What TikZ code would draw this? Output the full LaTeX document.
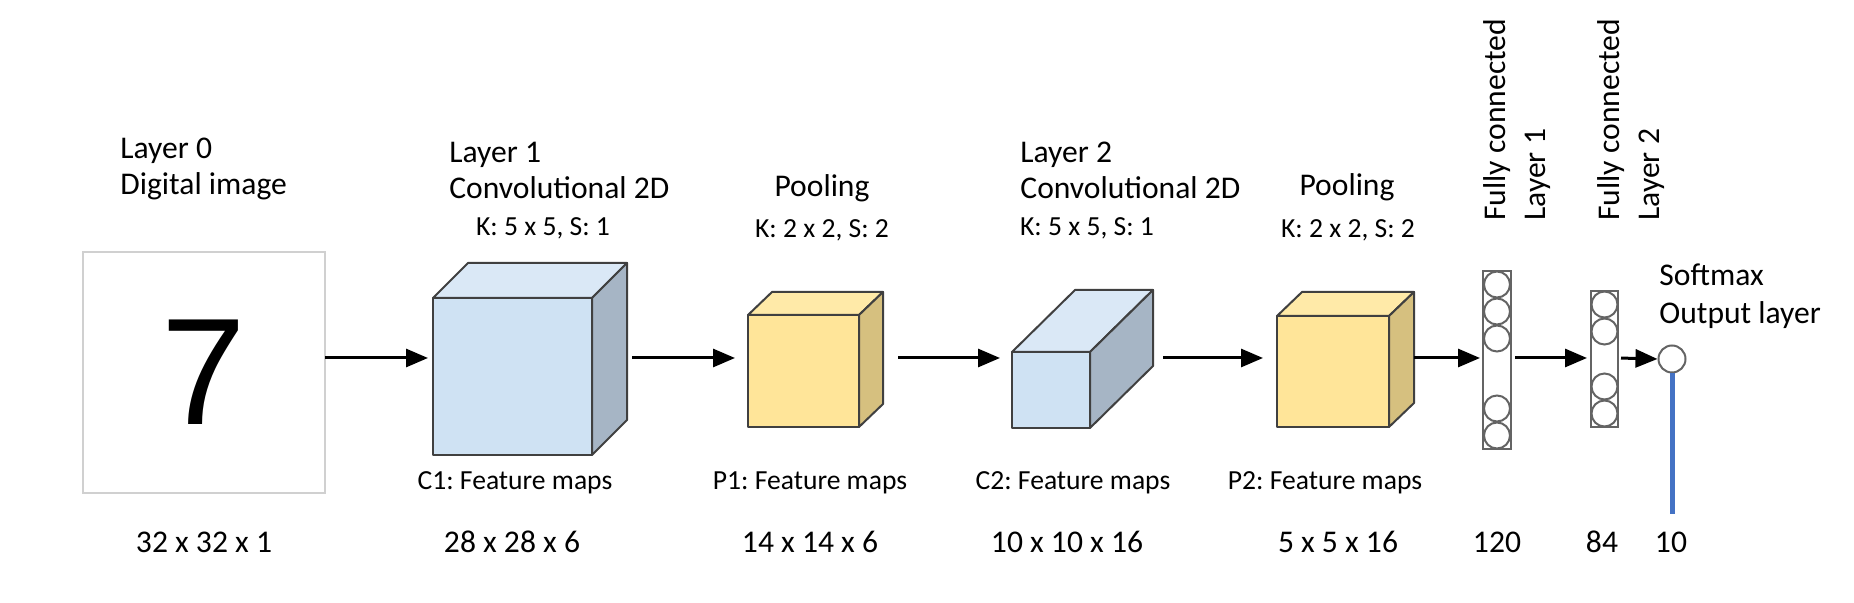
\documentclass[tikz,border=0pt]{standalone}
\usepackage{fontspec}
\setmainfont{Carlito}
\newfontfamily\digitfont{Liberation Sans}
\usetikzlibrary{arrows.meta,calc}
\frenchspacing

\definecolor{bluefront}{RGB}{207,226,243}
\definecolor{bluetop}{RGB}{218,232,246}
\definecolor{blueside}{RGB}{166,181,197}
\definecolor{yellowfront}{RGB}{255,229,153}
\definecolor{yellowtop}{RGB}{255,234,168}
\definecolor{yellowside}{RGB}{214,192,127}
\definecolor{edgegray}{RGB}{64,64,64}
\definecolor{boxgray}{RGB}{208,208,208}
\definecolor{nngray}{RGB}{100,100,100}
\definecolor{outblue}{RGB}{68,114,196}

\tikzset{
  face/.style={draw=edgegray, line width=1pt, line join=round, inner sep=0pt, outer sep=0pt},
  bigtxt/.style={font=\fontsize{15.8pt}{18pt}\selectfont, inner sep=0pt},
  smalltxt/.style={font=\fontsize{13.8pt}{16pt}\selectfont, inner sep=0pt},
  arr/.style={line width=1.5pt, -{Triangle[length=11pt,width=9pt]}},
  neuron/.style={circle, draw=nngray, line width=1pt, minimum size=13pt, inner sep=0pt},
  column/.style={draw=nngray, line width=1.2pt, inner sep=0pt, outer sep=0pt},
}

\begin{document}
\begin{tikzpicture}[x=0.5pt, y=-0.5pt]
\useasboundingbox (0,0) rectangle (1854,603);
\coordinate (mid) at (0,358);

% input image
\node[draw=boxgray, line width=1.2pt, minimum width=121pt, minimum height=120.5pt, inner sep=0pt, outer sep=0pt] (img) at (204,372.5) {};
\node[font=\digitfont\fontsize{76pt}{76pt}\selectfont, inner sep=0pt] (seven) at (img.center) {7};

% C1
\node[face, fill=bluefront, minimum width=79.5pt, minimum height=78.5pt] (c1) at (512.5,376.5) {};
\draw[face, fill=bluetop] (c1.north west) -- ++(35,-35) -- ++(159,0) -- (c1.north east) -- cycle;
\draw[face, fill=blueside] (c1.north east) -- ++(35,-35) -- ++(0,157) -- (c1.south east) -- cycle;
\coordinate (c1back) at ($(c1.east)+(35,0)$);

% P1
\node[face, fill=yellowfront, minimum width=55.5pt, minimum height=56pt] (p1) at (803.5,371) {};
\draw[face, fill=yellowtop] (p1.north west) -- ++(24,-23) -- ++(111,0) -- (p1.north east) -- cycle;
\draw[face, fill=yellowside] (p1.north east) -- ++(24,-23) -- ++(0,112) -- (p1.south east) -- cycle;
\coordinate (p1back) at ($(p1.east)+(24,0)$);

% C2
\node[face, fill=bluefront, minimum width=39pt, minimum height=38pt] (c2) at (1051,390) {};
\draw[face, fill=bluetop] (c2.north west) -- ++(63,-62) -- ++(78,0) -- (c2.north east) -- cycle;
\draw[face, fill=blueside] (c2.north east) -- ++(63,-62) -- ++(0,76) -- (c2.south east) -- cycle;
\coordinate (c2back) at ($(c2.east)+(63,0)$);

% P2
\node[face, fill=yellowfront, minimum width=56pt, minimum height=55.5pt] (p2) at (1333,371.5) {};
\draw[face, fill=yellowtop] (p2.north west) -- ++(25,-24) -- ++(112,0) -- (p2.north east) -- cycle;
\draw[face, fill=yellowside] (p2.north east) -- ++(25,-24) -- ++(0,111) -- (p2.south east) -- cycle;
\coordinate (p2back) at ($(p2.east)+(25,0)$);

% fully connected layers
\node[column, minimum width=14pt, minimum height=89pt] (fc1) at (1497,360) {};
\foreach \y [count=\i] in {284.5,311.5,338.5,408.5,435.5}
  \node[neuron] (fc1n\i) at (1497,\y) {};
\node[column, minimum width=13.5pt, minimum height=68pt] (fc2) at (1604.5,359) {};
\foreach \y [count=\i] in {304.5,331.5,386.5,413.5}
  \node[neuron] (fc2n\i) at (1604.5,\y) {};
\node[neuron, minimum size=13.5pt] (out) at (1672,359) {};
\coordinate (outend) at (1672,514);
\draw[outblue, line width=2.5pt] (out.south) -- (outend);

% arrows
\draw[arr, shorten >=2.5pt] (img.east |- mid) -- (c1.west |- mid);
\draw[arr, shorten <=2.5pt, shorten >=6.5pt] (c1back |- mid) -- (p1.west |- mid);
\draw[arr, shorten <=7.5pt, shorten >=6pt] (p1back |- mid) -- (c2.west |- mid);
\draw[arr, shorten <=5pt, shorten >=7pt] (c2back |- mid) -- (p2.west |- mid);
\draw[arr, shorten >=1.5pt] (p2back |- mid) -- (fc1.west |- mid);
\draw[arr, shorten <=2pt, shorten >=2pt] (fc1.east |- mid) -- (fc2.west |- mid);
\draw[arr, shorten <=1.5pt] (fc2.east |- mid) -- (out.west);

% titles
\node[bigtxt, align=left, anchor=west] (l0) at (120,168.5) {Layer 0\\Digital image};
\node[bigtxt, align=left, anchor=west] (l1) at (449,170.5) {Layer 1\\Convolutional 2D};
\node[bigtxt] (pool1) at (822,188) {Pooling};
\node[bigtxt, align=left, anchor=west] (l2) at (1020,170.5) {Layer 2\\Convolutional 2D};
\node[bigtxt] (pool2) at (1347,187) {Pooling};
\node[bigtxt, font=\fontsize{15.8pt}{20pt}\selectfont, rotate=90, anchor=west, align=left] (fc1lbl) at (1517,221) {Fully connected\\Layer 1};
\node[bigtxt, font=\fontsize{15.8pt}{20pt}\selectfont, rotate=90, anchor=west, align=left] (fc2lbl) at (1631.5,221) {Fully connected\\Layer 2};
\node[bigtxt, font=\fontsize{15.8pt}{19pt}\selectfont, align=left, anchor=west] (soft) at (1659,296) {Softmax\\Output layer};

% kernels
\node[smalltxt] (k1) at (543,228) {K: 5 x 5, S: 1};
\node[smalltxt] (k2) at (822,230) {K: 2 x 2, S: 2};
\node[smalltxt] (k3) at (1087,228) {K: 5 x 5, S: 1};
\node[smalltxt] (k4) at (1348,230) {K: 2 x 2, S: 2};

% feature maps
\node[smalltxt] (f1) at (515,483) {C1: Feature maps};
\node[smalltxt] (f2) at (810,483) {P1: Feature maps};
\node[smalltxt] (f3) at (1073,483) {C2: Feature maps};
\node[smalltxt] (f4) at (1325,483) {P2: Feature maps};

% sizes
\node[bigtxt] (s0) at (204,542) {32 x 32 x 1};
\node[bigtxt] (s1) at (512,542) {28 x 28 x 6};
\node[bigtxt] (s2) at (810,542) {14 x 14 x 6};
\node[bigtxt] (s3) at (1067,542) {10 x 10 x 16};
\node[bigtxt] (s4) at (1338,542) {5 x 5 x 16};
\node[bigtxt] (s5) at (1497,542) {120};
\node[bigtxt] (s6) at (1602,542) {84};
\node[bigtxt] (s7) at (1671,542) {10};

\end{tikzpicture}
\end{document}
